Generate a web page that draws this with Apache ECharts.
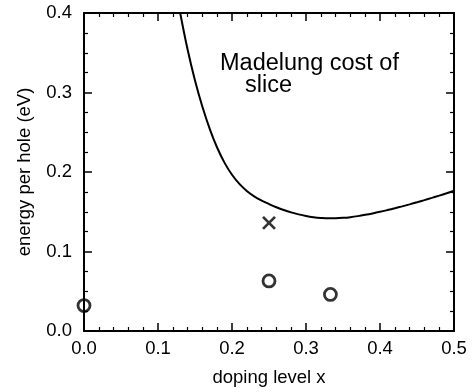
<!DOCTYPE html>
<html>
<head>
<meta charset="utf-8">
<script src="https://cdn.jsdelivr.net/npm/echarts@6/dist/echarts.min.js"></script>
<style>
html,body{margin:0;padding:0;background:#fff;}
#chart{width:472px;height:392px;}
</style>
</head>
<body>
<div id="chart"></div>
<script>
// Madelung cost curve
var curveX = [0.13,0.14,0.15,0.16,0.17,0.18,0.19,0.20,0.21,0.22,0.23,0.24,0.25,0.26,0.27,0.28,0.29,0.30,0.31,0.32,0.33,0.34,0.35,0.36,0.37,0.38,0.39,0.40,0.41,0.42,0.43,0.44,0.45,0.46,0.47,0.48,0.49,0.50];
var curveY = [0.400,0.354,0.315,0.282,0.254,0.2305,0.2115,0.1965,0.185,0.1762,0.1694,0.1641,0.1597,0.1557,0.1522,0.1492,0.1467,0.1447,0.1432,0.1422,0.1417,0.1418,0.1423,0.1432,0.1445,0.1461,0.1479,0.1499,0.1521,0.1544,0.1568,0.1593,0.1619,0.1646,0.1674,0.1703,0.1733,0.1764];
// open circles
var circleX = [0, 0.25, 0.333];
var circleY = [0.032, 0.063, 0.046];
// cross
var crossX = [0.25];
var crossY = [0.136];
var xTicks = [0, 0.1, 0.2, 0.3, 0.4, 0.5];
var yTicks = [0, 0.1, 0.2, 0.3, 0.4];

function zip(a, b) { return a.map(function (v, i) { return [v, b[i]]; }); }

var FONT = 'Liberation Sans, Arial, Helvetica, sans-serif';
var chart = echarts.init(document.getElementById('chart'));

function axisBase(extra) {
  var base = {
    type: 'value',
    axisLine: { show: true, onZero: false, lineStyle: { color: '#000', width: 2 } },
    axisTick: { show: true, inside: true, length: 8, lineStyle: { color: '#000', width: 1.5 } },
    minorTick: { show: true, length: 4, lineStyle: { color: '#000', width: 1.2 } },
    splitLine: { show: false },
    minorSplitLine: { show: false }
  };
  for (var k in extra) base[k] = extra[k];
  return base;
}

chart.setOption({
  animation: false,
  backgroundColor: '#fff',
  grid: { left: 84, right: 18, top: 13, bottom: 57, containLabel: false },
  xAxis: [
    axisBase({
      position: 'bottom', min: xTicks[0], max: xTicks[xTicks.length - 1], interval: 0.1,
      minorTick: { show: true, splitNumber: 5, length: 4, lineStyle: { color: '#000', width: 1.2 } },
      axisLabel: { color: '#000', fontSize: 18.5, fontFamily: FONT, margin: 8,
        formatter: function (v) { return v.toFixed(1); } },
      name: 'doping level x', nameLocation: 'middle', nameGap: 37,
      nameTextStyle: { color: '#000', fontSize: 18.5, fontFamily: FONT }
    }),
    axisBase({
      position: 'top', min: xTicks[0], max: xTicks[xTicks.length - 1], interval: 0.1,
      minorTick: { show: true, splitNumber: 5, length: 4, lineStyle: { color: '#000', width: 1.2 } },
      axisLabel: { show: false }
    })
  ],
  yAxis: [
    axisBase({
      position: 'left', min: yTicks[0], max: yTicks[yTicks.length - 1], interval: 0.1,
      minorTick: { show: true, splitNumber: 4, length: 4, lineStyle: { color: '#000', width: 1.2 } },
      axisLabel: { color: '#000', fontSize: 18.5, fontFamily: FONT, margin: 12,
        formatter: function (v) { return v.toFixed(1); } },
      name: 'energy per hole (eV)', nameLocation: 'middle', nameGap: 50,
      nameTextStyle: { color: '#000', fontSize: 18.5, fontFamily: FONT }
    }),
    axisBase({
      position: 'right', min: yTicks[0], max: yTicks[yTicks.length - 1], interval: 0.1,
      minorTick: { show: true, splitNumber: 4, length: 4, lineStyle: { color: '#000', width: 1.2 } },
      axisLabel: { show: false }
    })
  ],
  graphic: [
    { type: 'text', x: 220, y: 63.6, silent: true,
      style: { text: 'Madelung cost of', fill: '#000', font: '23.5px ' + FONT, textAlign: 'left', textVerticalAlign: 'middle' } },
    { type: 'text', x: 245, y: 85.2, silent: true,
      style: { text: 'slice', fill: '#000', font: '23.5px ' + FONT, textAlign: 'left', textVerticalAlign: 'middle' } }
  ],
  series: [
    {
      type: 'line', xAxisIndex: 0, yAxisIndex: 0,
      data: zip(curveX, curveY), smooth: 0.4, showSymbol: false, symbol: 'none',
      lineStyle: { color: '#000', width: 2 }, clip: true
    },
    {
      type: 'scatter', xAxisIndex: 0, yAxisIndex: 0,
      data: zip(circleX, circleY), symbol: 'circle', symbolSize: 12, clip: false,
      itemStyle: { color: 'rgba(0,0,0,0)', borderColor: '#000', borderWidth: 2.8 }
    },
    {
      type: 'scatter', xAxisIndex: 0, yAxisIndex: 0,
      data: zip(crossX, crossY), symbol: 'path://M0,0L10,10M10,0L0,10', symbolSize: 12, clip: false,
      itemStyle: { color: 'rgba(0,0,0,0)', borderColor: '#000', borderWidth: 2.8 }
    }
  ]
});
</script>
</body>
</html>
